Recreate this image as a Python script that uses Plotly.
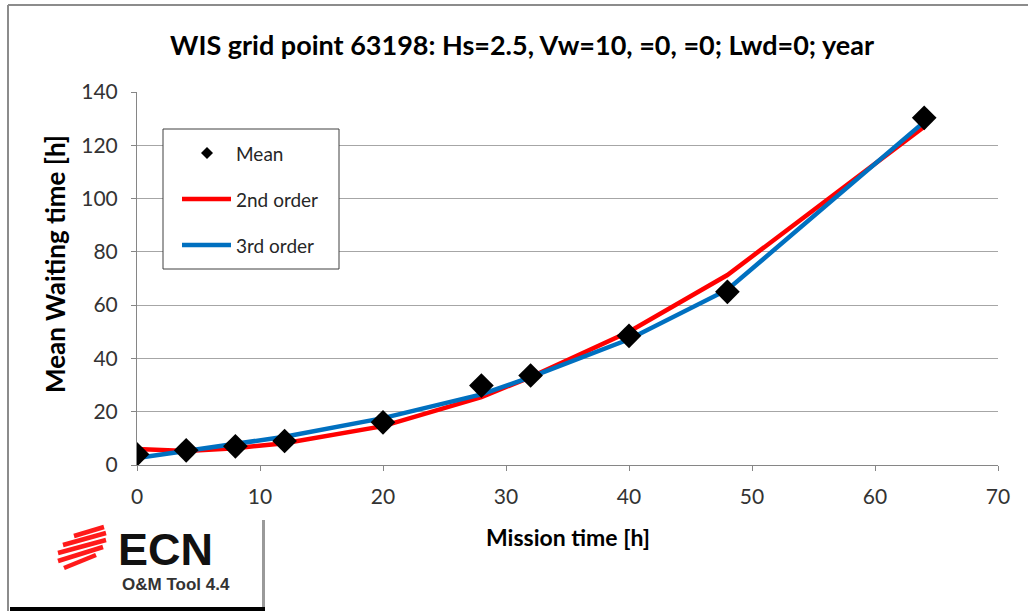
import plotly.graph_objects as go

mission_time = [0, 4, 8, 12, 20, 28, 32, 40, 48, 64]
mean_wait = [4, 5.5, 7, 9, 16, 29.8, 33.6, 48.5, 65, 130.3]
fit_2nd = [6, 5.3, 6.3, 8.2, 14.6, 25.5, 33, 50, 71.3, 127]
fit_3rd = [2.6, 5.4, 8.2, 10.6, 17.6, 26.5, 33, 47.2, 65.8, 128.8]

W, H = 1028, 611
L, R, T, B = 137, 998, 92, 465
def px(x): return (x - L) / (R - L)
def py(y): return (B - y) / (B - T)

FONT = "Lato"
fig = go.Figure()
fig.add_trace(go.Scatter(x=mission_time, y=fit_2nd, mode="lines",
                         line=dict(color="#FF0000", width=4.5), name="2nd order", showlegend=False))
fig.add_trace(go.Scatter(x=mission_time, y=fit_3rd, mode="lines",
                         line=dict(color="#0070C0", width=4.5), name="3rd order", showlegend=False))
fig.add_trace(go.Scatter(x=mission_time, y=mean_wait, mode="markers",
                         marker=dict(symbol="diamond", size=19, color="black"), name="Mean", showlegend=False))

shapes = []
ann = []
# outer border
shapes.append(dict(type="line", xref="paper", yref="paper", x0=px(8), x1=px(1030), y0=py(5), y1=py(5),
                   line=dict(color="#8C8C8C", width=2)))
shapes.append(dict(type="line", xref="paper", yref="paper", x0=px(8), x1=px(8), y0=py(5), y1=py(615),
                   line=dict(color="#8C8C8C", width=2)))
# legend box
shapes.append(dict(type="rect", xref="paper", yref="paper", x0=px(163), x1=px(339), y0=py(129), y1=py(269),
                   line=dict(color="#404040", width=1), fillcolor="white"))
shapes.append(dict(type="path", xref="paper", yref="paper",
                   path=f"M {px(207)},{py(147)} L {px(213)},{py(153)} L {px(207)},{py(159)} L {px(201)},{py(153)} Z",
                   fillcolor="black", line=dict(width=0)))
shapes.append(dict(type="line", xref="paper", yref="paper", x0=px(182), x1=px(231), y0=py(199), y1=py(199),
                   line=dict(color="#FF0000", width=4.5)))
shapes.append(dict(type="line", xref="paper", yref="paper", x0=px(182), x1=px(231), y0=py(245), y1=py(245),
                   line=dict(color="#0070C0", width=4.5)))
for txt, yy in [("Mean", 153), ("2nd order", 199), ("3rd order", 245)]:
    ann.append(dict(xref="paper", yref="paper", x=px(234), y=py(yy), text=txt, showarrow=False,
                    xanchor="left", yanchor="middle", font=dict(family=FONT, size=19, color="#262626")))
# logo box with shadow
shapes.append(dict(type="rect", xref="paper", yref="paper", x0=px(13), x1=px(265), y0=py(520), y1=py(612),
                   line=dict(width=0), fillcolor="#9A9A9A", layer="above"))
shapes.append(dict(type="rect", xref="paper", yref="paper", x0=px(10), x1=px(262), y0=py(517), y1=py(607),
                   line=dict(width=0), fillcolor="white", layer="above"))
shapes.append(dict(type="rect", xref="paper", yref="paper", x0=px(10), x1=px(265), y0=py(607), y1=py(613),
                   line=dict(width=0), fillcolor="black", layer="above"))
# red striped logo mark
stripes = [(74, 536, 104, 527), (63, 545, 106, 533), (58, 553, 106, 540), (58, 561, 103, 547), (64, 568, 96, 555)]
for x0, y0, x1, y1 in stripes:
    shapes.append(dict(type="line", xref="paper", yref="paper", x0=px(x0), y0=py(y0), x1=px(x1), y1=py(y1),
                       line=dict(color="#FF1A1A", width=4.5), layer="above"))
ann.append(dict(xref="paper", yref="paper", x=px(116), y=py(549), text="<b>ECN</b>", showarrow=False,
                xanchor="left", yanchor="middle", font=dict(family="Liberation Sans", size=45, color="#111111")))
ann.append(dict(xref="paper", yref="paper", x=px(120), y=py(584), text="<b>O&amp;M Tool 4.4</b>", showarrow=False,
                xanchor="left", yanchor="middle", font=dict(family="Liberation Sans", size=17, color="#333333")))
# axis titles
ann.append(dict(xref="paper", yref="paper", x=px(568), y=py(537), text="<b>Mission time [h]</b>", showarrow=False,
                xanchor="center", yanchor="middle", font=dict(family=FONT, size=23, color="black")))
ann.append(dict(xref="paper", yref="paper", x=px(55), y=py(264), text="<b>Mean Waiting time [h]</b>", showarrow=False,
                textangle=-90, xanchor="center", yanchor="middle", font=dict(family=FONT, size=26, color="black")))
ann.append(dict(xref="paper", yref="paper", x=px(522), y=py(45),
                text="<b>WIS grid point 63198: Hs=2.5, Vw=10, =0, =0; Lwd=0; year</b>", showarrow=False,
                xanchor="center", yanchor="middle", font=dict(family=FONT, size=27, color="black")))

fig.update_layout(
    width=W, height=H, margin=dict(l=L, r=W - R, t=T, b=H - B),
    paper_bgcolor="white", plot_bgcolor="white", showlegend=False,
    shapes=shapes, annotations=ann,
    xaxis=dict(range=[0, 70], dtick=10, tick0=0, showgrid=False, zeroline=False,
               showline=True, linecolor="#868686", linewidth=1, ticks="outside", ticklen=5,
               tickcolor="#868686", tickfont=dict(family=FONT, size=21, color="#333333"), ticklabelstandoff=8),
    yaxis=dict(range=[0, 140], dtick=20, tick0=0, showgrid=True, gridcolor="#A6A6A6", gridwidth=1,
               zeroline=False, showline=True, linecolor="#868686", linewidth=1, ticks="outside", ticklen=5,
               tickcolor="#868686", tickfont=dict(family=FONT, size=21, color="#333333"), ticklabelstandoff=9),
)
fig.write_html("out.html")
